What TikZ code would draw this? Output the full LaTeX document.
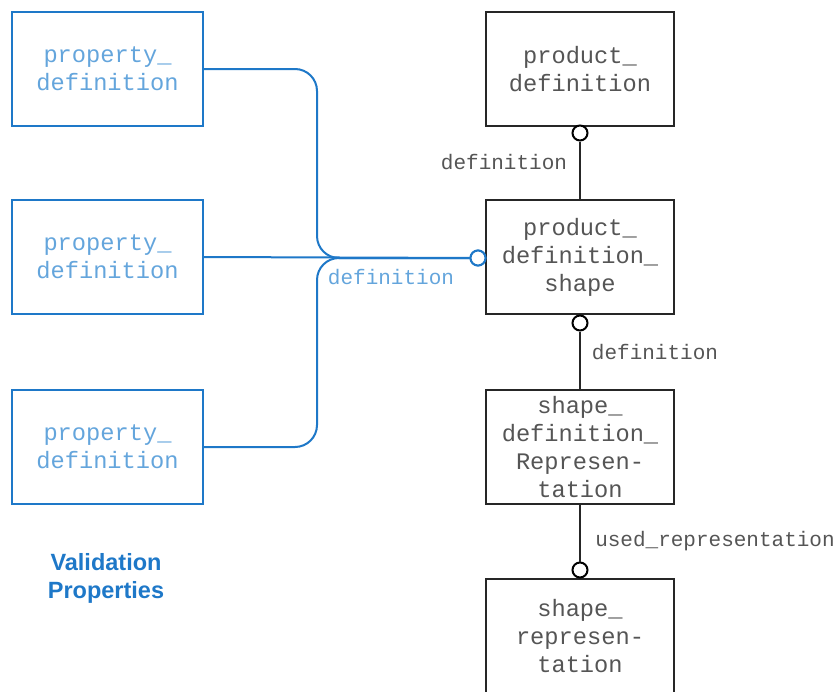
\documentclass[tikz,border=0pt]{standalone}
\usepackage{fontspec}
\setmonofont{Liberation Mono}
\setsansfont{Liberation Sans}
\usepackage{tikz}

\definecolor{valblue}{RGB}{30,120,200}
\definecolor{valtext}{RGB}{100,165,220}
\definecolor{entgrey}{RGB}{85,85,85}

\tikzset{
  entity/.style={draw=black!85, line width=2pt, minimum width=188pt, minimum height=114pt,
    inner sep=0pt, align=center, text=entgrey, font=\ttfamily\fontsize{23.7}{28}\selectfont},
  valbox/.style={entity, draw=valblue, text=valtext, minimum width=191pt},
  ring/.style={circle, draw, line width=2pt, fill=white, minimum size=15pt, inner sep=0pt},
  role/.style={text=entgrey, font=\ttfamily\fontsize{21}{26}\selectfont},
  link/.style={line width=2pt, draw=black!85},
}

\begin{document}
\begin{tikzpicture}[x=1pt, y=-1pt]
            \useasboundingbox (0,0) rectangle (838,691);
            % validation properties
            \begin{scope}[every node/.style={valbox}]
                \node (prop1) at (107.5,69) {property\_\\definition};
                \node (prop2) at (107.5,257) {property\_\\definition};
                \node (prop3) at (107.5,447) {property\_\\definition};
            \end{scope}
            \node[font=\sffamily\bfseries\fontsize{23.5}{28}\selectfont, text=valblue, align=center] (valtitle) at (106,578) {Validation\\Properties};
            % product side
            \begin{scope}[every node/.style={entity}]
                \node (pdef) at (580,69) {product\_\\definition};
                \node (pdshape) at (580,257) {product\_\\definition\_\\shape};
                \node (sdrep) at (580,447) {shape\_\\definition\_\\Represen-\\tation};
                \node (srep) at (580,636) {shape\_\\represen-\\tation};
            \end{scope}
            % blue merge
            \node[ring, draw=valblue] (pdin) at (478,258) {};
            \begin{scope}[line width=2pt, draw=valblue]
                \draw[rounded corners=22pt] (prop1.east) -- (317,69) -- (317,258) -- (pdin);
                \draw[rounded corners=22pt] (prop3.east) -- (317,447) -- (317,258) -- (pdin);
                \draw (prop2.east) -- (pdin);
            \end{scope}
            \node[ring, draw=valblue] at (pdin) {};
            \node[role, text=valtext] (deflbl) at (391,277) {definition};
            % black links
            \node[ring] (pdefout) at (580,133) {};
            \node[ring] (pdsout) at (580,323) {};
            \node[ring] (srepin) at (580,570) {};
            \draw[link] (pdefout) -- (pdshape.north);
            \draw[link] (pdsout) -- (sdrep.north);
            \draw[link] (sdrep.south) -- (srepin);
            \node[role] (lbl1) at (504,162) {definition};
            \node[role] (lbl2) at (655,352) {definition};
            \node[role] (lbl3) at (715,541) {used\_representation};
        \end{tikzpicture}
\end{document}
